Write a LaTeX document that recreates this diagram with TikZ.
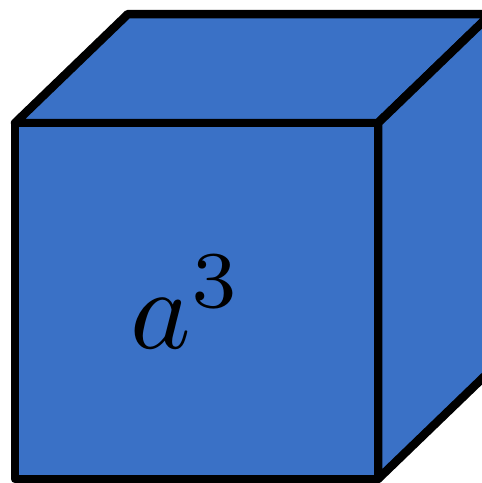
\documentclass[tikz,border=0pt]{standalone}
\usepackage{amsmath}
\definecolor{cubeblue}{HTML}{3A71C6}
\tikzset{
    face/.style={draw=black, fill=cubeblue, line width=8.5pt, line join=round},
    label/.style={scale=11.5, inner sep=0pt}
}
\begin{document}
\begin{tikzpicture}[x=1pt, y=-1pt]
    \useasboundingbox (0,0) rectangle (482,483);
    \clip (0,0) rectangle (482,483);
    % corners of the cube
    \coordinate (ftl) at (15,123);
    \coordinate (ftr) at (378,123);
    \coordinate (fbr) at (378,479);
    \coordinate (fbl) at (15,479);
    \coordinate (btl) at (128,14);
    \coordinate (btr) at (491,14);
    \coordinate (bbr) at (491,370);

    \draw[face] (ftl) -- (btl) -- (btr) -- (ftr) -- cycle;
    \draw[face] (ftr) -- (btr) -- (bbr) -- (fbr) -- cycle;
    \draw[face] (ftl) -- (ftr) -- (fbr) -- (fbl) -- cycle;

    \node[label] (vol) at (187,302) {$a^3$};
\end{tikzpicture}
\end{document}
